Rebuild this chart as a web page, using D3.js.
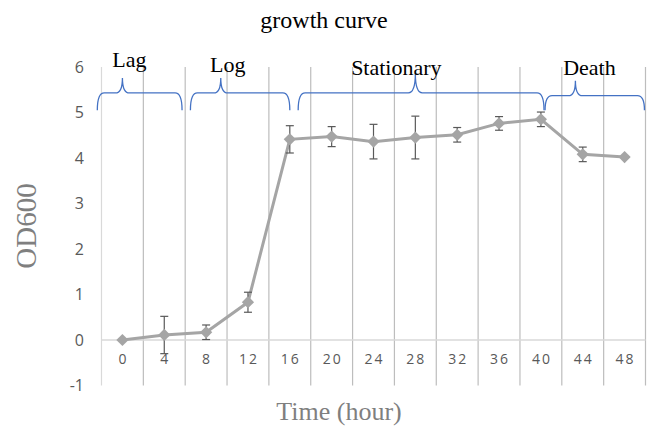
<!DOCTYPE html>
<html>
  <head>
    <meta charset="utf-8">
    <title>growth curve</title>
    <script src="https://d3js.org/d3.v7.min.js" charset="utf-8"></script>
    <style>
      body { margin: 0; background: #fff; }
      .tick text { font-family: "Open Sans", sans-serif; }
    </style>
  </head>
  <body>
    <script>
      // data
      var hours = [0, 4, 8, 12, 16, 20, 24, 28, 32, 36, 40, 44, 48]
      var od600 = [0, 0.11, 0.17, 0.83, 4.41, 4.47, 4.36, 4.45, 4.51, 4.76, 4.85, 4.08, 4.02]
      var odErr = [0, 0.41, 0.16, 0.22, 0.30, 0.22, 0.38, 0.47, 0.16, 0.15, 0.16, 0.16, 0]
      var yTicks = [-1, 0, 1, 2, 3, 4, 5, 6]

      // growth phases (in hours) and their brace peaks
      var phaseNames = ["Lag", "Log", "Stationary", "Death"]
      var phaseStart = [-2.4, 6.5, 16.8, 40.4]
      var phaseEnd = [5.7, 16, 40.3, 49.9]
      var phasePeak = [0, 9.4, 28, 43.3]

      var width = 647;
      var height = 428;

      var svg = d3.select("body")
          .append("svg")
          .attr("width", width)
          .attr("height", height);

      var x = d3.scaleBand()
        .domain(hours)
        .range([101.5, 645.5]);

      // continuous hour scale sharing the band centres
      var xh = d3.scaleLinear()
        .domain([0, 48])
        .range([x(0) + x.bandwidth() / 2, x(48) + x.bandwidth() / 2]);

      var y = d3.scaleLinear()
        .domain([-1, 6])
        .range([385.5, 67]);

      // vertical grid at category boundaries
      var bounds = hours.map(function(h) { return x(h); });
      bounds.push(x(48) + x.bandwidth());
      svg.append("g").selectAll("line")
        .data(bounds)
        .enter()
        .append("line")
        .attr("x1", function(d) { return d; })
        .attr("x2", function(d) { return d; })
        .attr("y1", y(6))
        .attr("y2", y(-1))
        .attr("stroke", function(d, i) { return i == 0 ? "#d9d9d9" : "#bdbdbd"; })
        .attr("stroke-width", 1.2);

      // zero line
      svg.append("line")
        .attr("x1", x(0))
        .attr("x2", bounds[bounds.length - 1])
        .attr("y1", y(0))
        .attr("y2", y(0))
        .attr("stroke", "#d9d9d9")
        .attr("stroke-width", 1.5);

      // y axis labels
      var yAxis = svg.append("g")
        .attr("transform", "translate(89,0)")
        .call(d3.axisLeft(y).tickValues(yTicks)
          .tickFormat(function(d) { return String(d); })
          .tickSize(0).tickPadding(5));
      yAxis.select(".domain").remove();
      yAxis.selectAll("text")
        .attr("fill", "#595959")
        .style("font-size", "16px");

      // x axis labels between 0 and -1
      var xAxis = svg.append("g")
        .attr("transform", "translate(0," + (y(0) + 14) + ")")
        .call(d3.axisBottom(x).tickSize(0).tickPadding(0));
      xAxis.select(".domain").remove();
      xAxis.selectAll("text")
        .attr("fill", "#595959")
        .style("font-size", "14px")
        .style("letter-spacing", "2px")
        .attr("dx", "1px");

      var cx = function(d, i) { return x(hours[i]) + x.bandwidth() / 2; };

      // line
      var line = d3.line()
        .x(function(d, i) { return cx(d, i); })
        .y(function(d) { return y(d); });

      svg.append("path")
        .datum(od600)
        .attr("fill", "none")
        .attr("stroke", "#a5a5a5")
        .attr("stroke-width", 3)
        .attr("d", line);

      // error bars
      var eb = svg.append("g")
        .attr("stroke", "#595959")
        .attr("stroke-width", 1.2);
      od600.forEach(function(v, i) {
        if (!odErr[i]) return;
        var px = cx(v, i);
        eb.append("line").attr("x1", px).attr("x2", px)
          .attr("y1", y(v + odErr[i])).attr("y2", y(v - odErr[i]));
        eb.append("line").attr("x1", px - 4).attr("x2", px + 4)
          .attr("y1", y(v + odErr[i])).attr("y2", y(v + odErr[i]));
        eb.append("line").attr("x1", px - 4).attr("x2", px + 4)
          .attr("y1", y(v - odErr[i])).attr("y2", y(v - odErr[i]));
      });

      // diamond markers
      svg.append("g").selectAll("path")
        .data(od600)
        .enter()
        .append("path")
        .attr("d", d3.symbol().type(d3.symbolSquare).size(75))
        .attr("transform", function(d, i) {
          return "translate(" + cx(d, i) + "," + y(d) + ") rotate(45)";
        })
        .attr("fill", "#a5a5a5");

      // braces
      var braceLine = [5.43, 5.43, 5.43, 5.37];
      var braceTop = [5.76, 5.76, 5.86, 5.7];
      var braceEnd = 5.05;
      var labelDx = [7, 7, -19, 14];
      var labelY = [66.7, 71.7, 75, 75];

      phaseNames.forEach(function(name, i) {
        var x0 = xh(phaseStart[i]), x1 = xh(phaseEnd[i]), p = xh(phasePeak[i]);
        var yl = y(braceLine[i]), yt = y(braceTop[i]), ye = y(braceEnd);
        var r = 7;
        var d = "M" + x0 + "," + ye +
          " Q" + x0 + "," + yl + " " + (x0 + r) + "," + yl +
          " L" + (p - r) + "," + yl +
          " Q" + p + "," + yl + " " + p + "," + yt +
          " Q" + p + "," + yl + " " + (p + r) + "," + yl +
          " L" + (x1 - r) + "," + yl +
          " Q" + x1 + "," + yl + " " + x1 + "," + ye;
        svg.append("path")
          .attr("d", d)
          .attr("fill", "none")
          .attr("stroke", "#4472c4")
          .attr("stroke-width", 1.3);
        svg.append("text")
          .attr("x", p + labelDx[i])
          .attr("y", labelY[i])
          .attr("text-anchor", "middle")
          .style("font-family", "'Liberation Serif', serif")
          .style("font-size", "22px")
          .attr("fill", "#000")
          .text(name);
      });

      // title
      svg.append("text")
        .attr("x", 324)
        .attr("y", 28)
        .attr("text-anchor", "middle")
        .style("font-family", "'Liberation Serif', serif")
        .style("font-size", "24px")
        .text("growth curve");

      // axis titles
      svg.append("text")
        .attr("x", 339)
        .attr("y", 420)
        .attr("text-anchor", "middle")
        .style("font-family", "'Liberation Serif', serif")
        .style("font-size", "26px")
        .attr("fill", "#7f7f7f")
        .text("Time (hour)");

      svg.append("text")
        .attr("transform", "translate(36,226) rotate(-90)")
        .attr("text-anchor", "middle")
        .style("font-family", "'Liberation Serif', serif")
        .style("font-size", "29px")
        .attr("fill", "#7f7f7f")
        .text("OD600");
    </script>
  </body>
</html>
